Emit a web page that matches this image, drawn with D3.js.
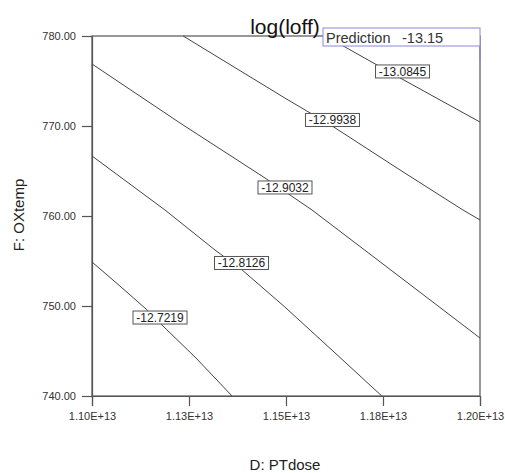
<!DOCTYPE html>
<html>
<head>
<meta charset="utf-8">
<script src="https://cdn.jsdelivr.net/npm/d3@7"></script>
<style>
  html, body { margin: 0; padding: 0; background: #fff; }
  svg { display: block; }
  text { font-family: "Liberation Sans", Arial, sans-serif; }
</style>
</head>
<body>
<svg id="chart" width="505" height="473"></svg>
<script>
// Axis ranges and tick values
const xDomain = [1.10e13, 1.20e13];
const yDomain = [740, 780];
const xTicks = [1.100e13, 1.125e13, 1.150e13, 1.175e13, 1.200e13];
const xTickLabels = ["1.10E+13", "1.13E+13", "1.15E+13", "1.18E+13", "1.20E+13"];
const yTicks = [740, 750, 760, 770, 780];
const yTickLabels = ["740.00", "750.00", "760.00", "770.00", "780.00"];

// Contour levels and their traced paths: [PTdose, OXtemp]
const levels = [-12.7219, -12.8126, -12.9032, -12.9938, -13.0845];
const levelText = ["-12.7219", "-12.8126", "-12.9032", "-12.9938", "-13.0845"];
const contourPaths = [
  [[1.1000e13, 754.89], [1.1072e13, 752.22], [1.1142e13, 749.56], [1.1175e13, 748.11], [1.1268e13, 744.22], [1.1361e13, 740.00]],
  [[1.1000e13, 766.67], [1.1188e13, 760.67], [1.1317e13, 756.22], [1.1387e13, 754.00], [1.1497e13, 749.89], [1.1621e13, 745.00], [1.1747e13, 740.00]],
  [[1.1000e13, 776.89], [1.1227e13, 770.33], [1.1446e13, 764.22], [1.1567e13, 760.67], [1.1794e13, 753.22], [1.2000e13, 746.44]],
  [[1.1235e13, 780.00], [1.1497e13, 773.11], [1.1619e13, 770.00], [1.1794e13, 765.11], [1.1956e13, 760.67], [1.2000e13, 759.56]],
  [[1.1601e13, 780.00], [1.1652e13, 778.78], [1.1799e13, 775.22], [1.2000e13, 770.44]]
];
// Where each level's label sits: [PTdose, OXtemp]
const labelAnchors = [
  [1.11753e13, 748.72],
  [1.13853e13, 754.78],
  [1.14974e13, 763.17],
  [1.16198e13, 770.67],
  [1.18003e13, 776.06]
];
const predictionText = ["Prediction", "-13.15"];

const svg = d3.select("#chart");
const plot = { left: 92, right: 480, top: 36, bottom: 396 };

const x = d3.scaleLinear().domain(xDomain).range([plot.left, plot.right]);
const y = d3.scaleLinear().domain(yDomain).range([plot.bottom, plot.top]);

const axisColor = "#555";
const textColor = "#333";

// Frame
svg.append("rect")
  .attr("x", plot.left).attr("y", plot.top)
  .attr("width", plot.right - plot.left).attr("height", plot.bottom - plot.top)
  .attr("fill", "none").attr("stroke", axisColor).attr("stroke-width", 1.2);

// Axes
const xAxis = d3.axisBottom(x).tickValues(xTicks)
  .tickFormat((d, i) => xTickLabels[i]).tickSize(10).tickPadding(6);
const yAxis = d3.axisLeft(y).tickValues(yTicks)
  .tickFormat((d, i) => yTickLabels[i]).tickSize(10).tickPadding(6);

const gx = svg.append("g").attr("transform", `translate(0,${plot.bottom})`).call(xAxis);
const gy = svg.append("g").attr("transform", `translate(${plot.left},0)`).call(yAxis);
[gx, gy].forEach(g => {
  g.select(".domain").attr("stroke", axisColor).attr("stroke-width", 1.2);
  g.selectAll(".tick line").attr("stroke", axisColor).attr("stroke-width", 1.2);
  g.selectAll(".tick text").attr("fill", textColor)
    .style("font-family", "'Liberation Sans', Arial, sans-serif").style("font-size", "11px");
});

// Contour lines
const line = d3.line().x(d => x(d[0])).y(d => y(d[1]));
svg.append("g").selectAll("path")
  .data(contourPaths)
  .join("path")
  .attr("d", line)
  .attr("fill", "none")
  .attr("stroke", "#444")
  .attr("stroke-width", 1);

// Contour labels
const labels = svg.append("g").selectAll("g")
  .data(levels)
  .join("g")
  .attr("transform", (d, i) => `translate(${x(labelAnchors[i][0])},${y(labelAnchors[i][1])})`);
labels.append("rect")
  .attr("x", -27).attr("y", -6.5).attr("width", 54).attr("height", 13)
  .attr("fill", "#fff").attr("stroke", "#555").attr("stroke-width", 1);
labels.append("text")
  .attr("text-anchor", "middle").attr("dy", "0.36em")
  .attr("fill", "#222").style("font-size", "12px")
  .text((d, i) => levelText[i]);

// Title
svg.append("text")
  .attr("x", 285).attr("y", 34)
  .attr("text-anchor", "middle")
  .attr("fill", "#111").style("font-size", "21px")
  .text("log(loff)");

// Prediction box
const pred = svg.append("g");
pred.append("rect")
  .attr("x", 323).attr("y", 28).attr("width", 157).attr("height", 18)
  .attr("fill", "#fff").attr("stroke", "#8a8ad8").attr("stroke-width", 1);
pred.append("line")
  .attr("x1", 480).attr("x2", 480).attr("y1", 46).attr("y2", 61)
  .attr("stroke", "#8a8ad8").attr("stroke-width", 1.2);
pred.append("text")
  .attr("x", 326).attr("y", 43)
  .attr("fill", textColor).style("font-size", "14.5px")
  .text(predictionText[0]);
pred.append("text")
  .attr("x", 402).attr("y", 43)
  .attr("fill", textColor).style("font-size", "14.5px")
  .text(predictionText[1]);

// Axis titles
svg.append("text")
  .attr("transform", "translate(24,215) rotate(-90)")
  .attr("text-anchor", "middle")
  .attr("fill", "#222").style("font-size", "15px")
  .text("F: OXtemp");
svg.append("text")
  .attr("x", 285).attr("y", 470)
  .attr("text-anchor", "middle")
  .attr("fill", "#222").style("font-size", "15px")
  .text("D: PTdose");
</script>
</body>
</html>
